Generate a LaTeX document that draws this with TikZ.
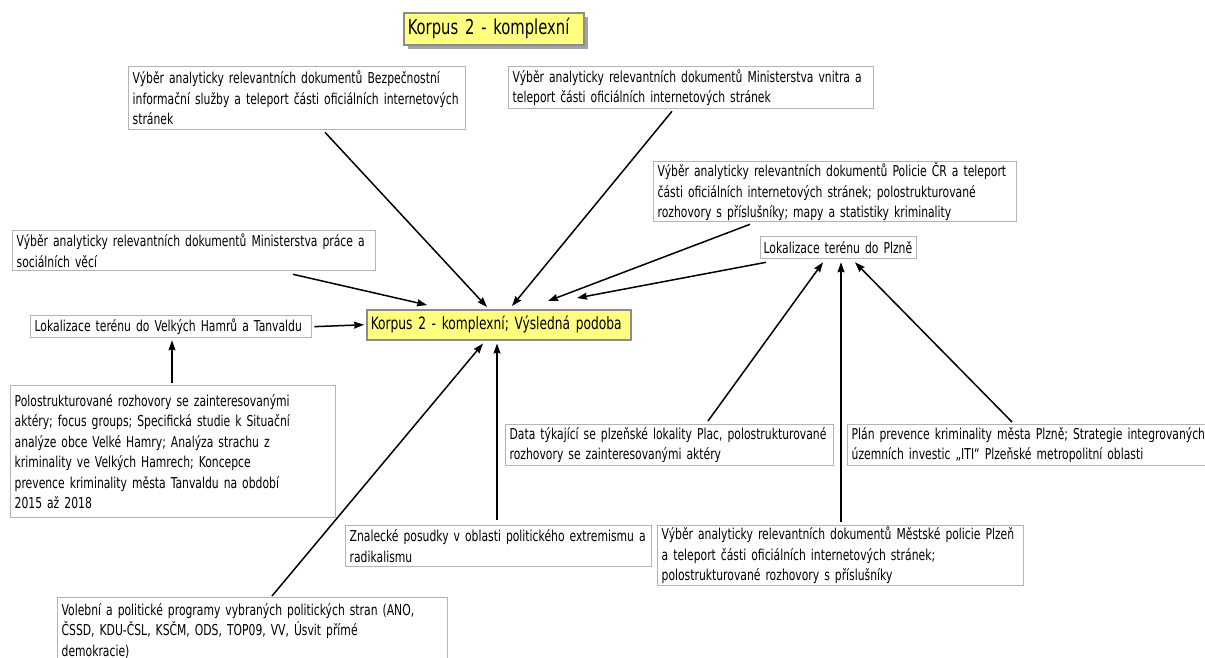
\documentclass[tikz,border=0pt]{standalone}
\usepackage{fontspec}
\setmainfont[FakeStretch=0.72]{DejaVu Sans}
\usetikzlibrary{arrows.meta}
\definecolor{note}{HTML}{FFFF80}
\definecolor{frame}{HTML}{B4B4B4}
\definecolor{darkframe}{HTML}{8C8C8C}
\begin{document}
\begin{tikzpicture}[x=1pt,y=-1pt,
  txt/.style={font=\fontsize{15}{20.5}\selectfont},
  srcbox/.style={txt,draw=frame,line width=1.3pt,fill=white,anchor=north west,
    align=left,inner xsep=4pt,inner ysep=0pt},
  mainbox/.style={draw=darkframe,line width=1.5pt,fill=note,anchor=north west,
    align=left,inner xsep=4pt,inner ysep=0pt},
  link/.style={line width=1.5pt,-{Stealth[length=10pt,width=7pt,inset=1pt]}}]
\useasboundingbox (0,0) rectangle (1205,657);
\clip (0,0) rectangle (1205,657);
\fill[white] (0,0) rectangle (1205,657);

% title with drop shadow
\fill[darkframe!80] (408,17) rectangle (588,49);
\node[mainbox,minimum width=180pt,minimum height=32pt,text width=172pt,
  font=\fontsize{20.5}{24}\selectfont] (title) at (403,12) {Korpus 2 - komplexní};

% central result
\node[mainbox,minimum width=264pt,minimum height=30pt,text width=256pt,
  font=\fontsize{17}{22}\selectfont] (ctr) at (366,309) {Korpus 2 - komplexní; Výsledná podoba};

% source boxes
\node[srcbox,minimum width=337pt,minimum height=63pt,text width=329pt] (bis) at (128,66)
  {Výběr analyticky relevantních dokumentů Bezpečnostní\\informační služby a teleport části oficiálních internetových\\stránek};
\node[srcbox,minimum width=365pt,minimum height=42pt,text width=357pt] (mv) at (508,66)
  {Výběr analyticky relevantních dokumentů Ministerstva vnitra a\\teleport části oficiálních internetových stránek};
\node[srcbox,minimum width=363pt,minimum height=60pt,text width=355pt] (pcr) at (653,161)
  {Výběr analyticky relevantních dokumentů Policie ČR a teleport\\části oficiálních internetových stránek; polostrukturované\\rozhovory s příslušníky; mapy a statistiky kriminality};
\node[srcbox,minimum width=156pt,minimum height=22pt,text width=150pt,inner xsep=3pt] (plzen) at (760,236)
  {\mbox{Lokalizace terénu do Plzně}};
\node[srcbox,minimum width=363pt,minimum height=40pt,text width=355pt] (mpsv) at (12,230)
  {Výběr analyticky relevantních dokumentů Ministerstva práce a\\sociálních věcí};
\node[srcbox,minimum width=281pt,minimum height=22pt,text width=273pt] (hamry) at (30,315)
  {\mbox{Lokalizace terénu do Velkých Hamrů a Tanvaldu}};
\node[srcbox,minimum width=325pt,minimum height=132pt,text width=317pt] (polo) at (10,385)
  {Polostrukturované rozhovory se zainteresovanými\\aktéry; focus groups; Specifická studie k Situační\\analýze obce Velké Hamry; Analýza strachu z\\kriminality ve Velkých Hamrech; Koncepce\\prevence kriminality města Tanvaldu na období\\2015 až 2018};
\node[srcbox,minimum width=328pt,minimum height=41pt,text width=320pt] (plac) at (505,424)
  {Data týkající se plzeňské lokality Plac, polostrukturované\\rozhovory se zainteresovanými aktéry};
\node[srcbox,minimum width=372pt,minimum height=41pt,text width=364pt] (iti) at (847,424)
  {Plán prevence kriminality města Plzně; Strategie integrovaných\\územních investic „ITI“ Plzeňské metropolitní oblasti};
\node[srcbox,minimum width=306pt,minimum height=41pt,text width=298pt] (znal) at (345,525)
  {Znalecké posudky v oblasti politického extremismu a\\radikalismu};
\node[srcbox,minimum width=366pt,minimum height=60pt,text width=358pt] (mpp) at (657,525)
  {Výběr analyticky relevantních dokumentů Městské policie Plzeň\\a teleport části oficiálních internetových stránek;\\polostrukturované rozhovory s příslušníky};
\node[srcbox,minimum width=390pt,minimum height=66pt,text width=382pt] (vol) at (57,597)
  {Volební a politické programy vybraných politických stran (ANO,\\ČSSD, KDU-ČSL, KSČM, ODS, TOP09, VV, Úsvit přímé\\demokracie)};

% connectors into the result
\draw[link] ([shift={(197,2)}]bis.south west) -- ([shift={(121,-2)}]ctr.north west);
\draw[link] ([shift={(164,2)}]mv.south west) -- ([shift={(146,-3)}]ctr.north west);
\draw[link] ([shift={(97,2)}]pcr.south west) -- ([shift={(182,-8)}]ctr.north west);
\draw[link] ([shift={(6,3)}]plzen.south west) -- ([shift={(211,-11)}]ctr.north west);
\draw[link] ([shift={(281,3)}]mpsv.south west) -- ([shift={(61,-4)}]ctr.north west);
\draw[link] ([shift={(2,0)}]hamry.east) -- ([shift={(-2,0)}]ctr.west);
\draw[link] ([shift={(215,-1)}]vol.north west) -- ([shift={(117,3)}]ctr.south west);
\draw[link] ([shift={(152,-5)}]znal.north west) -- ([shift={(131,3)}]ctr.south west);
% connectors into the local boxes
\draw[link] ([shift={(162,-2)}]polo.north west) -- ([shift={(142,2)}]hamry.south west);
\draw[link] ([shift={(203,-3)}]plac.north west) -- ([shift={(63,3)}]plzen.south west);
\draw[link] ([shift={(184,-3)}]mpp.north west) -- ([shift={(81,3)}]plzen.south west);
\draw[link] ([shift={(165,-2)}]iti.north west) -- ([shift={(95,3)}]plzen.south west);
\end{tikzpicture}
\end{document}
